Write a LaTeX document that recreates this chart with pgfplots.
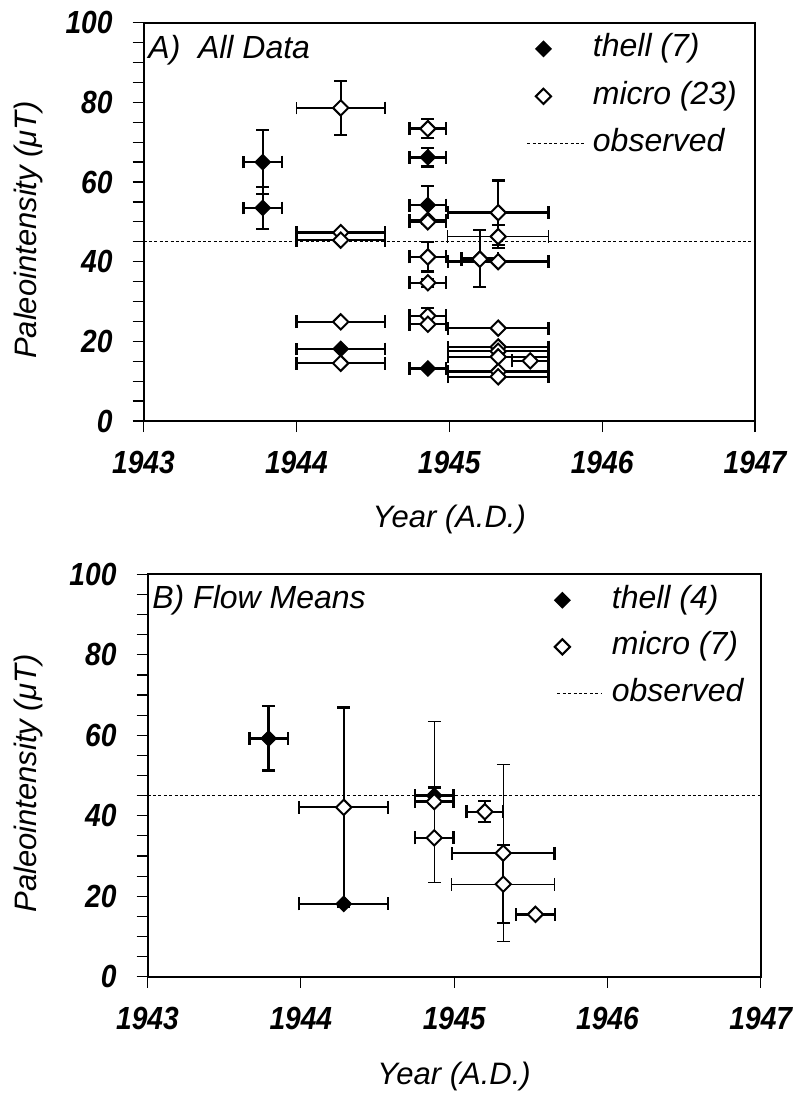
\documentclass[border=0pt]{standalone}
\usepackage{fontspec}
\setmainfont{Liberation Sans}
\newfontfamily\tickfam{Liberation Sans}[FakeStretch=0.88]
\usepackage{pgfplots}
\pgfplotsset{compat=1.18}
\usepackage{pgfplotstable}

\newcommand{\tickfont}{\tickfam\fontsize{16}{18}\selectfont\bfseries\itshape}
\newcommand{\labfont}{\fontsize{15.5}{18}\selectfont\itshape}
\newcommand{\legfont}{\fontsize{16}{19}\selectfont\itshape}

% ---------------- Panel A data ----------------
\pgfplotstableread{
x y ex ey
1943.78 65.0 0.125 8.0
1943.78 53.5 0.125 5.3
1944.86 66.2 0.12 2.3
1944.86 54.2 0.12 4.8
1944.86 13.2 0.12 0
1944.29 18.1 0.29 0
1945.20 40.8 0.12 7.2
}\thellA
\pgfplotstableread{
x y ex ey
1944.29 47.3 0.29 0
1944.29 45.4 0.29 0
1944.29 24.9 0.29 0
1944.29 14.5 0.29 0
1944.86 73.4 0.12 2.4
1944.86 50.4 0.12 0
1944.86 50.0 0.12 0
1944.86 41.2 0.12 3.7
1944.86 34.7 0.12 1.0
1944.86 26.4 0.12 1.9
1944.86 24.3 0.12 0
1945.20 40.6 0.12 0
1945.32 52.3 0.33 8.1
1945.32 40.0 0.33 0
1945.32 23.3 0.33 0
1945.32 18.6 0.33 0
1945.32 17.5 0.33 0
1945.32 16.1 0.33 0
1945.32 12.4 0.33 0
1945.32 11.1 0.33 0
1945.53 15.1 0.12 0
}\microA
\pgfplotstableread{
x y ex ey
1944.29 78.6 0.29 6.8
1945.32 46.3 0.33 2.9
}\microAthin

% ---------------- Panel B data ----------------
\pgfplotstableread{
x y ex ey
1943.79 59.2 0.125 8.0
1944.28 18.1 0.29 0
1944.87 45.0 0.125 2.0
1945.20 41.0 0.12 2.6
}\thellB
\pgfplotstableread{
x y ex ey
1944.28 42.1 0.29 24.8
1944.87 34.5 0.125 0
1945.20 41.0 0.12 0
1945.53 15.5 0.127 0
}\microB
\pgfplotstableread{
x y ex ey
1944.87 43.5 0.125 20.0
1945.32 30.7 0.335 22.0
}\microBthinY
\pgfplotstableread{
x y ex ey
1945.32 23.0 0.335 9.7
}\microBthinX

\pgfplotsset{
  base/.style={
    scale only axis,
    xmin=1943, xmax=1947, ymin=0, ymax=100,
    xtick={1943,1944,1945,1946,1947},
    ytick={0,20,40,60,80,100},
    minor y tick num=3,
    tick align=outside,
    xtick pos=bottom, ytick pos=left,
    major tick length=5.5pt, minor tick length=5.5pt,
    axis line style={line width=1pt},
    every tick/.style={black, line width=0.6pt},
    /pgf/number format/1000 sep={},
    /pgf/number format/assume math mode=true,
    ticklabel style={font=\tickfont},
    xticklabel style={yshift=-6pt},
    yticklabel style={xshift=-6.5pt},
    xlabel={Year (A.D.)},
    ylabel={Paleointensity (μT)},
    legend cell align=left,
  },
  thellmark/.style={only marks, mark=square*, mark size=2.7pt,
    mark options={rotate=45, fill=black, draw=black, line width=0.6pt, solid}},
  micromark/.style={only marks, mark=square*, mark size=2.7pt,
    mark options={rotate=45, fill=white, draw=black, line width=1pt, solid}},
  obsline/.style={black, line width=0.5pt, dash pattern=on 1.5pt off 1.2pt},
  ebx/.style={forget plot, only marks, mark=none, black,
    error bars/.cd, x dir=both, x explicit,
    error bar style={line width=#1, black, solid},
    error mark options={rotate=90, mark size=3.2pt, line width=#1, black, solid}},
  eby/.style={forget plot, only marks, mark=none, black,
    error bars/.cd, y dir=both, y explicit,
    error bar style={line width=#1, black, solid},
    error mark options={rotate=90, mark size=3.2pt, line width=#1, black, solid}},
  legmarkA/.style={legend image code/.code={\path[draw=none,fill=none] (0pt,-1pt) rectangle (29pt,1pt); \draw[##1] plot coordinates {(8pt,0pt)};}},
  leglineA/.style={legend image code/.code={\draw[##1] (0pt,0pt) -- (29pt,0pt);}},
  legmarkB/.style={legend image code/.code={\path[draw=none,fill=none] (0pt,-1pt) rectangle (22pt,1pt); \draw[##1] plot coordinates {(2.5pt,0pt)};}},
  leglineB/.style={legend image code/.code={\draw[##1] (0pt,0pt) -- (22pt,0pt);}},
}

\begin{document}
\begin{tikzpicture}
\path[use as bounding box] (0pt,0pt) rectangle (396.5pt,-547.5pt);

% ================= Panel A =================
\begin{axis}[base,
  at={(71.75pt,-11.35pt)}, anchor=north west,
  width=305.75pt, height=199.15pt,
  every axis x label/.style={at={(axis description cs:0.5,-0.248)}, anchor=center, font=\labfont},
  every axis y label/.style={at={(axis description cs:-0.188,0.48)}, rotate=90, anchor=center, font=\labfont},
  legend style={draw=none, fill=none, at={(axis description cs:0.627,0.972)}, anchor=north west,
    font=\legfont, row sep=8.75pt, inner sep=0pt, outer sep=0pt,
    nodes={inner sep=0pt, text height=11.5pt, text depth=3.5pt},
    /tikz/every odd column/.append style={column sep=3.5pt}},
]
\addlegendimage{thellmark, legmarkA}
\addlegendimage{micromark, legmarkA}
\addlegendimage{obsline, leglineA}
\addplot[obsline, forget plot] coordinates {(1943,45) (1947,45)};
% error bars
\addplot[ebx=1.2pt] table[x=x, y=y, x error=ex] {\thellA};
\addplot[eby=1.2pt] table[x=x, y=y, y error=ey] {\thellA};
\addplot[ebx=1.2pt] table[x=x, y=y, x error=ex] {\microA};
\addplot[eby=1.2pt] table[x=x, y=y, y error=ey] {\microA};
\addplot[ebx=0.6pt] table[x=x, y=y, x error=ex] {\microAthin};
\addplot[eby=1.2pt] table[x=x, y=y, y error=ey] {\microAthin};
% markers
\addplot[thellmark, forget plot] table[x=x, y=y] {\thellA};
\addplot[micromark, forget plot] table[x=x, y=y] {\microA};
\addplot[micromark, forget plot] table[x=x, y=y] {\microAthin};
\node[anchor=west, font=\legfont, inner sep=0pt] at (axis description cs:0.0074,0.93) {A)\hspace{0.55em}All Data};
\legend{thell (7), micro (23), observed}
\end{axis}

% ================= Panel B =================
\begin{axis}[base,
  at={(73.75pt,-287.15pt)}, anchor=north west,
  width=306.65pt, height=201.2pt,
  every axis x label/.style={at={(axis description cs:0.5,-0.248)}, anchor=center, font=\labfont},
  every axis y label/.style={at={(axis description cs:-0.194,0.48)}, rotate=90, anchor=center, font=\labfont},
  legend style={draw=none, fill=none, at={(axis description cs:0.664,0.973)}, anchor=north west,
    font=\legfont, row sep=8.35pt, inner sep=0pt, outer sep=0pt,
    nodes={inner sep=0pt, text height=11.5pt, text depth=3.5pt},
    /tikz/every odd column/.append style={column sep=5pt}},
]
\addlegendimage{thellmark, legmarkB}
\addlegendimage{micromark, legmarkB}
\addlegendimage{obsline, leglineB}
\addplot[obsline, forget plot] coordinates {(1943,45) (1947,45)};
% error bars
\addplot[ebx=1.2pt] table[x=x, y=y, x error=ex] {\thellB};
\addplot[eby=1.2pt] table[x=x, y=y, y error=ey] {\thellB};
\addplot[ebx=1.2pt] table[x=x, y=y, x error=ex] {\microB};
\addplot[eby=1.2pt] table[x=x, y=y, y error=ey] {\microB};
\addplot[ebx=1.2pt] table[x=x, y=y, x error=ex] {\microBthinY};
\addplot[eby=0.6pt] table[x=x, y=y, y error=ey] {\microBthinY};
\addplot[ebx=0.6pt] table[x=x, y=y, x error=ex] {\microBthinX};
\addplot[eby=1.2pt] table[x=x, y=y, y error=ey] {\microBthinX};
% markers
\addplot[thellmark, forget plot] table[x=x, y=y] {\thellB};
\addplot[micromark, forget plot] table[x=x, y=y] {\microB};
\addplot[micromark, forget plot] table[x=x, y=y] {\microBthinY};
\addplot[micromark, forget plot] table[x=x, y=y] {\microBthinX};
\node[anchor=west, font=\legfont, inner sep=0pt] at (axis description cs:0.0073,0.935) {B) Flow Means};
\legend{thell (4), micro (7), observed}
\end{axis}
\end{tikzpicture}
\end{document}
